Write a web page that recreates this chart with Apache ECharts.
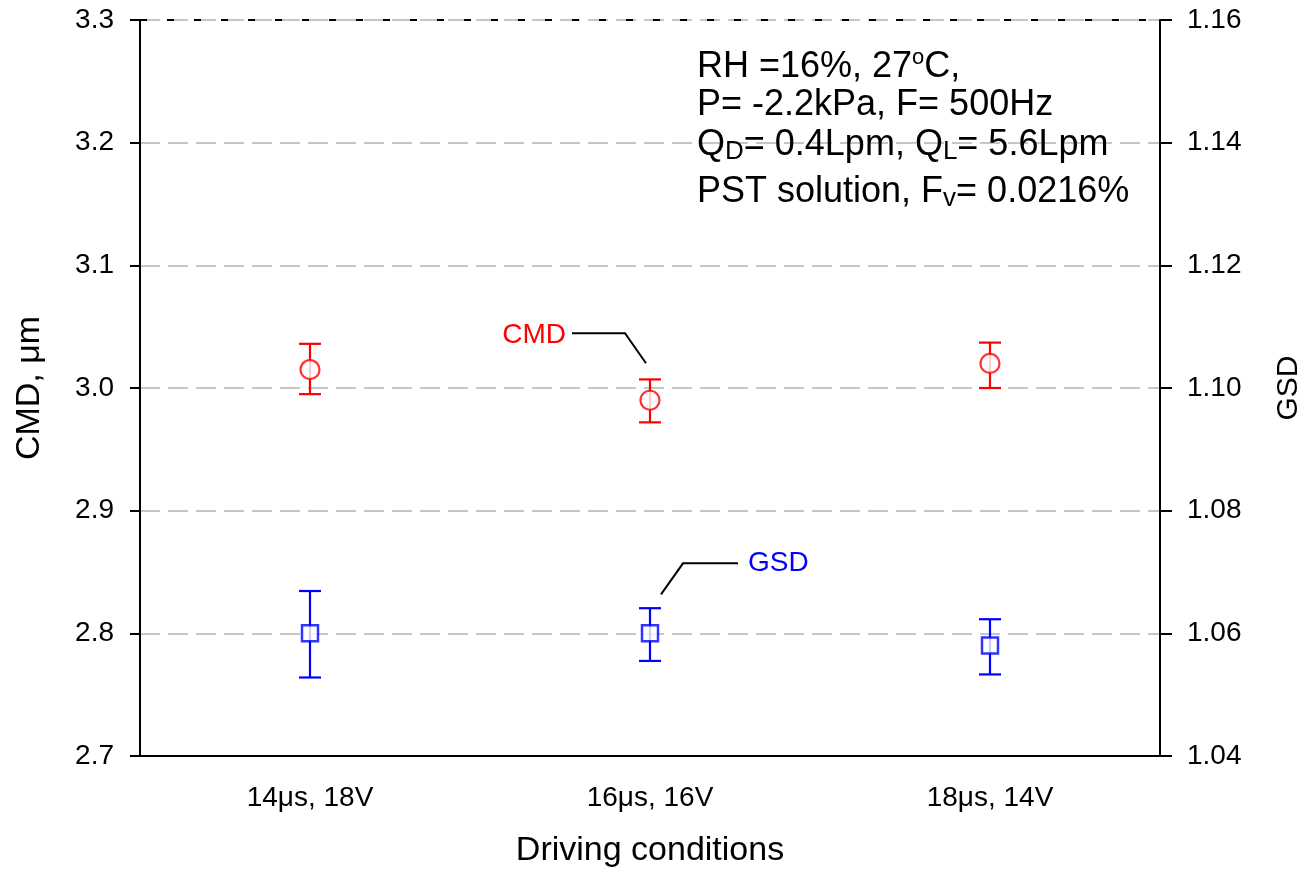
<!DOCTYPE html>
<html>
<head>
<meta charset="utf-8">
<script src="https://cdn.jsdelivr.net/npm/echarts@6/dist/echarts.min.js"></script>
<style>
  html, body { margin: 0; padding: 0; background: #fff; overflow: hidden; }
  #main { width: 1304px; height: 874px; }
</style>
</head>
<body>
<div id="main"></div>
<script>
// data
var categories = ['14μs, 18V', '16μs, 16V', '18μs, 14V'];
var cmdMean = [3.015, 2.990, 3.020];
var cmdLow  = [2.995, 2.972, 3.000];
var cmdHigh = [3.036, 3.007, 3.037];
var gsdMean = [1.060, 1.060, 1.058];
var gsdLow  = [1.0528, 1.0555, 1.0533];
var gsdHigh = [1.0669, 1.0641, 1.0623];
var leftTicks = [2.7, 3.3, 0.1];    // min, max, step
var rightTicks = [1.04, 1.16, 0.02];

var FONT = '"Liberation Sans", Arial, sans-serif';
var RED = '#ff0000', BLUE = '#0000ff';

function errBars(low, high) {
  return low.map(function (v, i) { return [i, v, high[i]]; });
}

// vertical bar + two caps
function errorBarItem(color, capHalf) {
  return function (params, api) {
    var i = api.value(0);
    var hi = api.coord([i, api.value(2)]);
    var lo = api.coord([i, api.value(1)]);
    var st = { stroke: color, lineWidth: 2.2 };
    return {
      type: 'group',
      children: [
        { type: 'line', shape: { x1: hi[0], y1: hi[1], x2: lo[0], y2: lo[1] }, style: st },
        { type: 'line', shape: { x1: hi[0] - capHalf, y1: hi[1], x2: hi[0] + capHalf, y2: hi[1] }, style: st },
        { type: 'line', shape: { x1: lo[0] - capHalf, y1: lo[1], x2: lo[0] + capHalf, y2: lo[1] }, style: st }
      ]
    };
  };
}

var chart = echarts.init(document.getElementById('main'));

var option = {
  animation: false,
  textStyle: { fontFamily: FONT },
  grid: { left: 140, right: 144, top: 20, bottom: 118, containLabel: false, outerBoundsMode: 'none' },
  xAxis: [{
    type: 'category',
    data: categories,
    name: 'Driving conditions',
    nameLocation: 'middle',
    nameGap: 78,
    nameTextStyle: { fontSize: 34, color: '#000', fontFamily: FONT },
    axisLine: { lineStyle: { color: '#000', width: 2 } },
    axisTick: { alignWithLabel: true, length: 11, lineStyle: { color: '#000', width: 2 } },
    axisLabel: { fontSize: 28, color: '#000', margin: 28, fontFamily: FONT },
    splitLine: { show: false }
  }, {
    // second axis only to get the inner half of the crossing ticks
    type: 'category',
    data: categories,
    position: 'bottom',
    axisLine: { show: false },
    axisTick: { inside: true, alignWithLabel: true, length: 11, lineStyle: { color: '#000', width: 2 } },
    axisLabel: { show: false },
    splitLine: { show: false }
  }],
  yAxis: [{
    type: 'value',
    min: leftTicks[0], max: leftTicks[1], interval: leftTicks[2],
    name: 'CMD, μm',
    nameLocation: 'middle',
    nameGap: 93,
    nameTextStyle: { fontSize: 34, color: '#000', fontFamily: FONT },
    axisLine: { show: true, lineStyle: { color: '#000', width: 2 } },
    axisTick: { show: true, length: 10, lineStyle: { color: '#000', width: 2 } },
    axisLabel: { fontSize: 28, color: '#000', margin: 26, fontFamily: FONT,
      formatter: function (v) { return v.toFixed(1); } },
    splitLine: { show: true, lineStyle: { color: '#c6c6c6', width: 2, type: [20, 8] } }
  }, {
    type: 'value',
    position: 'right',
    min: rightTicks[0], max: rightTicks[1], interval: rightTicks[2],
    name: 'GSD',
    nameLocation: 'middle',
    nameGap: 114,
    nameTextStyle: { fontSize: 30, color: '#000', fontFamily: FONT },
    axisLine: { show: true, lineStyle: { color: '#000', width: 2 } },
    axisTick: { show: true, length: 12, lineStyle: { color: '#000', width: 2 } },
    axisLabel: { fontSize: 28, color: '#000', margin: 27, fontFamily: FONT,
      formatter: function (v) { return v.toFixed(2); } },
    splitLine: { show: false }
  }],
  series: [{
    name: 'CMD err',
    type: 'custom',
    xAxisIndex: 0, yAxisIndex: 0,
    renderItem: errorBarItem(RED, 11),
    data: errBars(cmdLow, cmdHigh),
    z: 2
  }, {
    name: 'GSD err',
    type: 'custom',
    xAxisIndex: 0, yAxisIndex: 1,
    renderItem: errorBarItem(BLUE, 11),
    data: errBars(gsdLow, gsdHigh),
    z: 2
  }, {
    name: 'CMD',
    type: 'scatter',
    xAxisIndex: 0, yAxisIndex: 0,
    data: cmdMean,
    symbol: 'circle',
    symbolSize: 19,
    itemStyle: { color: '#fff', borderColor: RED, borderWidth: 2.2 },
    z: 5,
    markLine: {
      silent: true,
      symbol: 'none',
      label: { show: false },
      lineStyle: { color: '#000', width: 2, type: [7, 20] },
      data: [{ yAxis: leftTicks[1] }]
    }
  }, {
    name: 'GSD',
    type: 'scatter',
    xAxisIndex: 0, yAxisIndex: 1,
    data: gsdMean,
    symbol: 'rect',
    symbolSize: 16,
    itemStyle: { color: '#fff', borderColor: BLUE, borderWidth: 2.5 },
    z: 5
  }]
};
chart.setOption(option);

// annotation block + leader labels
var main = { fontSize: 36, lineHeight: 40, color: '#000', fontFamily: FONT };
var sub = { fontSize: 26, lineHeight: 22, verticalAlign: 'bottom', color: '#000', fontFamily: FONT };
var sup = { fontSize: 22, lineHeight: 14, verticalAlign: 'top', color: '#000', fontFamily: FONT };
var infoLines = [
  '{a|RH =16%, 27}{p|o}{a|C,}',
  '{a|P= -2.2kPa, F= 500Hz}',
  '{a|Q}{s|D}{a|= 0.4Lpm, Q}{s|L}{a|= 5.6Lpm}',
  '{a|PST solution, F}{s|v}{a|= 0.0216%}'
];
var infoTops = [47, 87, 127, 174];

var p = chart.convertToPixel({ xAxisIndex: 0, yAxisIndex: 0 }, [categories[1], cmdMean[1]]);
var q = chart.convertToPixel({ xAxisIndex: 0, yAxisIndex: 1 }, [categories[1], gsdMean[1]]);

var graphics = infoLines.map(function (t, i) {
  return {
    type: 'text', left: 697, top: infoTops[i], z: 10,
    style: { text: t, rich: { a: main, s: sub, p: sup } }
  };
});
graphics.push({
  type: 'polyline', z: 10,
  shape: { points: [[p[0] - 78, p[1] - 67], [p[0] - 25, p[1] - 67], [p[0] - 4, p[1] - 37]] },
  style: { stroke: '#000', lineWidth: 2, fill: null }
});
graphics.push({
  type: 'text', z: 10, x: p[0] - 84, y: p[1] - 65,
  style: { text: 'CMD', fill: RED, fontSize: 28, fontFamily: FONT, align: 'right', verticalAlign: 'middle' }
});
graphics.push({
  type: 'polyline', z: 10,
  shape: { points: [[q[0] + 11, q[1] - 39], [q[0] + 33, q[1] - 70], [q[0] + 88, q[1] - 70]] },
  style: { stroke: '#000', lineWidth: 2, fill: null }
});
graphics.push({
  type: 'text', z: 10, x: q[0] + 98, y: q[1] - 70,
  style: { text: 'GSD', fill: BLUE, fontSize: 28, fontFamily: FONT, align: 'left', verticalAlign: 'middle' }
});
chart.setOption({ graphic: graphics });
</script>
</body>
</html>
